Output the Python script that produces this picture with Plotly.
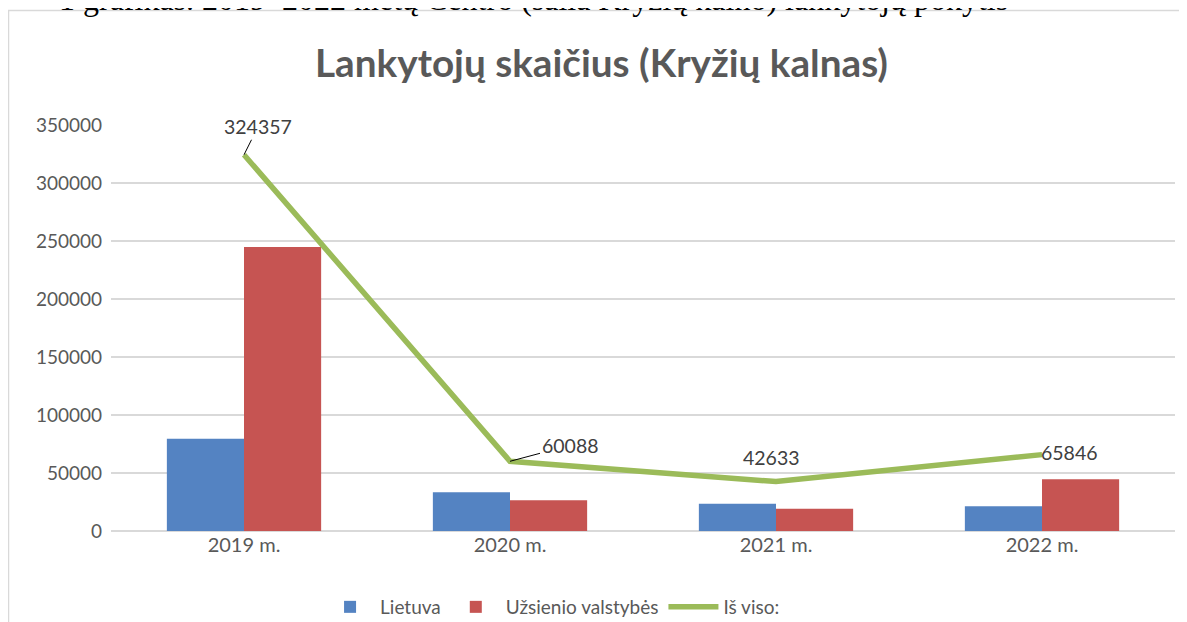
import plotly.graph_objects as go

categories = ["2019 m.", "2020 m.", "2021 m.", "2022 m."]
lietuva = [79500, 33500, 23500, 21300]
uzsienio = [244857, 26588, 19133, 44546]
is_viso = [324357, 60088, 42633, 65846]
y_ticks = [0, 50000, 100000, 150000, 200000, 250000, 300000, 350000]

# label offsets (pixels) and whether a leader line is drawn
label_offsets = [(14, -28, True), (60, -16, True), (-5, -24, False), (27, -2, False)]

# the page body adds an 8px offset; plot area in figure pixels:
L, T, B = 103, 117, 523
H = B - T

fig = go.Figure()
fig.add_trace(go.Bar(x=categories, y=lietuva, name="Lietuva",
                     marker=dict(color="#5483C2", line=dict(width=0))))
fig.add_trace(go.Bar(x=categories, y=uzsienio, name="Užsienio valstybės",
                     marker=dict(color="#C65452", line=dict(width=0))))
fig.add_trace(go.Scatter(x=categories, y=is_viso, name="Iš viso:", mode="lines",
                         line=dict(color="#9BBB59", width=5.5)))

for cat, val, (ax, ay, arrow) in zip(categories, is_viso, label_offsets):
    fig.add_annotation(x=cat, y=val, text=str(val), showarrow=True,
                       ax=ax, ay=ay, arrowhead=0, arrowwidth=1,
                       arrowcolor="black" if arrow else "rgba(0,0,0,0)",
                       font=dict(family="Lato", size=19.5, color="#404040"))

# caption (cropped at top) and chart frame
fig.add_annotation(xref="paper", yref="paper", x=(525 - L) / 1064, y=(B - 11) / H,
                   xanchor="center", yanchor="bottom", showarrow=False,
                   text="1 grafikas. 2019–2022 metų Centro (šalia Kryžių kalno) lankytojų pokytis",
                   font=dict(family="Liberation Serif", size=32, color="black"))
fig.add_shape(type="rect", xref="paper", yref="paper",
              x0=(0.5 - L) / 1064, x1=(1200 - L) / 1064,
              y0=(B - 640) / H, y1=(B - 2.5) / H,
              line=dict(color="#D9D9D9", width=1.5), fillcolor="rgba(0,0,0,0)", layer="below")

fig.update_layout(
    width=1187, height=622,
    margin=dict(l=L, r=20, t=T, b=622 - B, autoexpand=False),
    paper_bgcolor="white", plot_bgcolor="white",
    barmode="group", bargap=0.42, bargroupgap=0,
    title=dict(text="<b>Lankytojų skaičius (Kryžių kalnas)</b>", x=0.5, xanchor="center",
               y=1 - 55 / 622, yanchor="middle",
               font=dict(family="Lato", size=38.7, color="#595959")),
    legend=dict(orientation="h", x=0.415, xanchor="center", y=(B - 599) / H, yanchor="middle",
                font=dict(family="Lato", size=19, color="#595959"), itemwidth=50,
                traceorder="normal"),
    xaxis=dict(showline=False, ticks="", automargin=False,
               tickfont=dict(family="Lato", size=20, color="#595959")),
    yaxis=dict(range=[0, 350000], tickvals=y_ticks, ticktext=[str(v) for v in y_ticks],
               showgrid=True, gridcolor="#D9D9D9", gridwidth=1.5, zeroline=True, automargin=False,
               zerolinecolor="#D9D9D9", zerolinewidth=1.5, ticks="", ticklabelstandoff=8,
               tickfont=dict(family="Lato", size=19, color="#595959")),
)

fig.write_html("out.html")
